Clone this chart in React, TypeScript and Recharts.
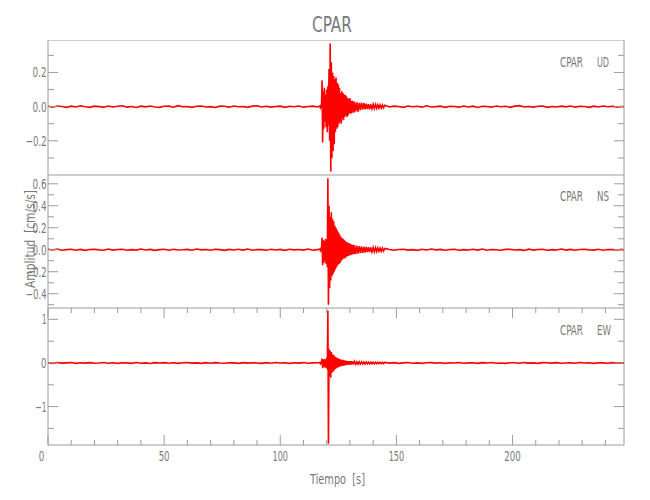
import React from 'react';
import { LineChart, Line, XAxis, YAxis, ReferenceArea } from 'recharts';

// ---- time samples (s) ----
const quietTimesA = [0,2,4,6,8,10,12,14,16,18,20,22,24,26,28,30,32,34,36,38,40,42,44,46,48,50,52,54,56,58,60,62,64,66,68,70,72,74,76,78,80,82,84,86,88,90,92,94,96,98,100,102,104,106,108,110,112,114,116];
const burstTimes = [
  117,117.25,117.5,117.75,118,118.25,118.5,118.75,
  119,119.25,119.5,119.75,120,120.25,120.5,120.75,
  121,121.25,121.5,121.75,122,122.25,122.5,122.75,
  123,123.25,123.5,123.75,124,124.25,124.5,124.75,
  125,125.25,125.5,125.75,126,126.25,126.5,126.75,
  127,127.25,127.5,127.75,128,128.25,128.5,128.75,
  129,129.25,129.5,129.75,130,130.25,130.5,130.75,
  131,131.25,131.5,131.75,132,
  132.5,133,133.5,134,134.5,135,135.5,136,136.5,137,137.5,138,138.5,139,139.5,140,140.5,141,141.5,142,142.5,143,143.5,144,144.5,145];
const quietTimesB = [147,149,151,153,155,157,159,161,163,165,167,169,171,173,175,177,179,181,183,185,187,189,191,193,195,197,199,201,203,205,207,209,211,213,215,217,219,221,223,225,227,229,231,233,235,237,239,241,243,245,247,248];

// ---- UD component (cm/s/s) ----
const udQuietA = [
  0.002,-0.003,0.004,0.001,-0.004,0.003,-0.002,0.005,-0.001,-0.004,
  0.003,0.000,-0.003,0.004,-0.002,0.002,0.005,-0.003,0.001,-0.005,
  0.003,-0.001,0.004,-0.002,-0.004,0.002,0.003,-0.003,0.006,-0.001,
  0.001,-0.004,0.002,0.004,-0.002,0.000,-0.005,0.003,0.002,-0.003,
  0.004,-0.001,0.001,-0.004,0.003,0.005,-0.002,0.002,-0.003,0.001,
  0.003,-0.004,0.002,-0.001,0.004,-0.003,0.001,0.003,-0.002];
const udBurst = [
  0.004,-0.006,0.005,-0.008,0.155,-0.21,0.09,-0.13,
  0.11,-0.09,0.07,-0.12,0.10,-0.15,0.12,-0.11,
  0.22,-0.20,0.37,-0.38,0.26,-0.30,0.20,-0.26,
  0.18,-0.22,0.16,-0.15,0.17,-0.13,0.14,-0.12,
  0.13,-0.10,0.11,-0.09,0.08,-0.10,0.09,-0.07,
  0.08,-0.08,0.07,-0.06,0.07,-0.05,0.06,-0.06,
  0.05,-0.05,0.045,-0.04,0.05,-0.04,0.035,-0.04,
  0.035,-0.03,0.03,-0.035,0.03,
  -0.028,0.025,-0.03,0.022,-0.02,0.024,-0.018,0.02,-0.016,0.018,-0.015,0.014,-0.016,0.013,-0.012,0.014,-0.011,0.012,-0.01,0.011,-0.009,0.01,-0.008,0.009,-0.007,0.008];
const udQuietB = [
  -0.002,0.003,0.001,-0.004,0.004,-0.001,0.002,-0.003,0.005,-0.002,
  0.000,0.003,-0.004,0.002,0.001,-0.003,0.004,-0.002,0.003,-0.005,
  0.002,0.001,-0.003,0.004,-0.001,0.002,-0.004,0.003,0.006,-0.002,
  0.001,-0.003,0.002,0.004,-0.004,0.001,-0.002,0.003,-0.001,0.004,
  -0.003,0.002,0.001,-0.004,0.003,-0.002,0.004,-0.001,0.002,-0.003,
  0.001,0.000];

// ---- NS component ----
const nsQuietA = [
  0.004,-0.002,0.006,-0.005,0.001,0.005,-0.004,0.003,-0.006,0.002,
  0.005,-0.001,-0.004,0.006,-0.003,0.002,0.004,-0.005,0.001,-0.003,
  0.006,-0.002,0.003,-0.006,0.001,0.004,-0.004,0.005,-0.002,0.000,
  0.003,-0.005,0.006,-0.001,0.002,-0.004,0.005,0.001,-0.006,0.003,
  -0.002,0.004,-0.003,0.006,-0.005,0.002,0.001,-0.004,0.005,-0.002,
  0.003,-0.006,0.004,-0.001,0.002,-0.003,0.006,-0.004,0.001];
const nsBurst = [
  0.006,-0.008,0.007,-0.01,0.11,-0.14,0.09,-0.12,
  0.08,-0.10,0.10,-0.13,0.09,-0.16,0.65,-0.50,
  0.40,-0.35,0.30,-0.28,0.34,-0.24,0.28,-0.22,
  0.26,-0.20,0.22,-0.18,0.20,-0.16,0.18,-0.14,
  0.16,-0.13,0.14,-0.12,0.12,-0.10,0.11,-0.09,
  0.10,-0.08,0.09,-0.08,0.08,-0.07,0.07,-0.06,
  0.065,-0.06,0.06,-0.05,0.055,-0.05,0.05,-0.045,
  0.045,-0.04,0.045,-0.04,0.04,
  -0.038,0.035,-0.035,0.032,-0.03,0.03,-0.028,0.027,-0.025,0.026,-0.022,0.024,-0.02,0.022,-0.019,0.02,-0.018,0.018,-0.016,0.017,-0.015,0.015,-0.013,0.014,-0.012,0.012];
const nsQuietB = [
  0.003,-0.005,0.002,0.005,-0.003,0.001,-0.006,0.004,-0.002,0.006,
  -0.001,0.003,-0.004,0.002,0.005,-0.005,0.001,-0.002,0.004,-0.003,
  0.006,-0.004,0.002,0.000,-0.005,0.003,0.004,-0.002,0.001,-0.006,
  0.005,-0.003,0.002,0.004,-0.004,0.001,-0.002,0.006,-0.003,0.003,
  -0.005,0.002,0.004,-0.001,-0.003,0.005,-0.004,0.002,0.001,-0.002,
  0.003,-0.001];

// ---- EW component ----
const ewQuietA = [
  0.006,-0.008,0.010,-0.004,0.002,0.009,-0.010,0.005,-0.003,0.008,
  -0.006,0.001,0.011,-0.007,0.004,-0.009,0.006,0.002,-0.008,0.010,
  -0.005,0.003,-0.011,0.007,0.000,0.008,-0.006,0.004,-0.009,0.005,
  0.010,-0.003,0.002,-0.008,0.007,-0.005,0.009,-0.002,-0.007,0.006,
  0.003,-0.010,0.008,-0.004,0.005,0.001,-0.009,0.007,-0.006,0.011,
  -0.002,0.004,-0.008,0.006,-0.003,0.009,-0.007,0.002,0.005];
const ewBurst = [
  0.01,-0.015,0.012,-0.02,0.10,-0.12,0.08,-0.09,
  0.09,-0.10,0.08,-0.11,0.12,-0.15,1.20,-1.85,
  0.32,-0.30,0.28,-0.34,0.25,-0.22,0.20,-0.20,
  0.18,-0.16,0.15,-0.14,0.13,-0.12,0.12,-0.10,
  0.10,-0.09,0.09,-0.08,0.08,-0.07,0.075,-0.065,
  0.07,-0.06,0.06,-0.055,0.055,-0.05,0.05,-0.045,
  0.045,-0.04,0.045,-0.04,0.04,-0.035,0.04,-0.035,
  0.035,-0.03,0.035,-0.03,0.03,
  -0.03,0.028,-0.027,0.026,-0.025,0.024,-0.023,0.022,-0.022,0.021,-0.02,0.02,-0.019,0.018,-0.018,0.017,-0.017,0.016,-0.016,0.015,-0.015,0.015,-0.014,0.014,-0.014,0.013];
const ewQuietB = [
  -0.004,0.007,-0.009,0.003,0.010,-0.006,0.002,-0.008,0.005,0.008,
  -0.003,0.006,-0.010,0.004,-0.001,0.009,-0.007,0.003,0.005,-0.009,
  0.007,-0.002,0.010,-0.005,0.001,-0.008,0.006,0.004,-0.006,0.009,
  -0.003,0.002,-0.010,0.007,0.005,-0.004,0.008,-0.006,0.001,0.003,
  -0.007,0.010,-0.002,0.006,-0.009,0.004,0.002,-0.005,0.008,-0.003,
  0.006,-0.004];

// ---- axes ----
const xDomain = [0, 248];
const xTicks = [0,10,20,30,40,50,60,70,80,90,100,110,120,130,140,150,160,170,180,190,200,210,220,230,240];
const xMajorTicks = [0,50,100,150,200];

const udDomain = [-0.4, 0.39];
const udTicks = [-0.3,-0.2,-0.1,0,0.1,0.2,0.3];
const udMajor = [-0.2,0,0.2];
const nsDomain = [-0.53, 0.68];
const nsTicks = [-0.5,-0.4,-0.3,-0.2,-0.1,0,0.1,0.2,0.3,0.4,0.5,0.6];
const nsMajor = [-0.4,-0.2,0,0.2,0.4,0.6];
const ewDomain = [-1.88, 1.26];
const ewTicks = [-1.5,-1,-0.5,0,0.5,1];
const ewMajor = [-1,0,1];

const times = [...quietTimesA, ...burstTimes, ...quietTimesB];
const udValues = [...udQuietA, ...udBurst, ...udQuietB];
const nsValues = [...nsQuietA, ...nsBurst, ...nsQuietB];
const ewValues = [...ewQuietA, ...ewBurst, ...ewQuietB];
const data = times.map((t, i) => ({ t, ud: udValues[i] ?? 0, ns: nsValues[i] ?? 0, ew: ewValues[i] ?? 0 }));

const AXIS = '#9c9c9c';
const TEXT = '#7a7a7a';
const FONT = "'Liberation Sans Narrow','DejaVu Sans Condensed','Liberation Sans',sans-serif";
const PLOT_W = 576;

const charW = (c: string) => (c === '.' ? 3 : c === '\u2212' ? 6.5 : c === '1' ? 4.5 : 5.5);
const labelLen = (s: string) => s.split('').reduce((a, c) => a + charW(c), 0);
const fmt1 = (v: number) => (v < 0 ? '\u2212' : '') + Math.abs(v).toFixed(1);
const fmt0 = (v: number) => (v < 0 ? '\u2212' : '') + Math.abs(v).toFixed(0);

function YTick(props: any) {
  const { x, y, payload, majors, fmt } = props;
  const v = payload.value;
  const major = majors.some((m: number) => Math.abs(m - v) < 1e-9);
  const len = major ? 10 : 6;
  const label = major ? fmt(v) : null;
  return (
    <g>
      <line x1={x} y1={y} x2={x + len} y2={y} stroke={AXIS} strokeWidth={1} />
      <line x1={x + PLOT_W} y1={y} x2={x + PLOT_W - len} y2={y} stroke={AXIS} strokeWidth={1} />
      {label !== null && (
        <text x={x - 1.5} y={y + 5} textAnchor="end" fontFamily={FONT} fontSize={14} fill={TEXT}
          textLength={labelLen(label)} lengthAdjust="spacingAndGlyphs">{label}</text>
      )}
    </g>
  );
}

function XTick(props: any) {
  const { x, y, payload, plotH, showLabels } = props;
  const v = payload.value;
  const major = xMajorTicks.includes(v);
  const len = major ? 10 : 5;
  const label = String(v);
  return (
    <g>
      <line x1={x} y1={y} x2={x} y2={y - len} stroke={AXIS} strokeWidth={1} />
      <line x1={x} y1={y - plotH} x2={x} y2={y - plotH + len} stroke={AXIS} strokeWidth={1} />
      {showLabels && major && (
        <text x={v === 0 ? x - 6.5 : x} y={y + 16} textAnchor="middle" fontFamily={FONT} fontSize={14} fill={TEXT}
          textLength={labelLen(label)} lengthAdjust="spacingAndGlyphs">{label}</text>
      )}
    </g>
  );
}

function Panel(p: { top: number; plotH: number; dataKey: string; domain: number[]; ticks: number[]; majors: number[]; fmt: (v: number) => string; showXLabels: boolean }) {
  const extra = p.showXLabels ? 30 : 0;
  const h = p.plotH + extra;
  return (
    <div style={{ position: 'absolute', left: 0, top: p.top, width: 650, height: h }}>
      <LineChart width={650} height={h} data={data} margin={{ top: 0, right: 26, bottom: 0, left: 0 }}>
        <XAxis dataKey="t" type="number" domain={xDomain} ticks={xTicks} interval={0} height={extra}
          tickSize={0} tickMargin={0} axisLine={false} tickLine={false} allowDataOverflow
          tick={(tp: any) => <XTick {...tp} plotH={p.plotH} showLabels={p.showXLabels} />} />
        <YAxis type="number" domain={p.domain} ticks={p.ticks} interval={0} width={48}
          tickSize={0} tickMargin={0} axisLine={false} tickLine={false} allowDataOverflow
          tick={(tp: any) => <YTick {...tp} majors={p.majors} fmt={p.fmt} />} />
        <ReferenceArea x1={xDomain[0]} x2={xDomain[1]} y1={p.domain[0]} y2={p.domain[1]}
          fill="none" fillOpacity={0} stroke={AXIS} strokeWidth={1} ifOverflow="visible" />
        <Line dataKey={p.dataKey} type="linear" stroke="#ff0000" strokeWidth={1.6} dot={false} isAnimationActive={false} />
      </LineChart>
    </div>
  );
}

export default function App() {
  return (
    <div style={{ position: 'absolute', left: 0, top: 0, width: 650, height: 500, background: '#ffffff' }}>
      <Panel top={40} plotH={135} dataKey="ud" domain={udDomain} ticks={udTicks} majors={udMajor} fmt={fmt1} showXLabels={false} />
      <Panel top={175} plotH={133} dataKey="ns" domain={nsDomain} ticks={nsTicks} majors={nsMajor} fmt={fmt1} showXLabels={false} />
      <Panel top={308} plotH={137} dataKey="ew" domain={ewDomain} ticks={ewTicks} majors={ewMajor} fmt={fmt0} showXLabels={true} />
      <svg width={650} height={500} style={{ position: 'absolute', left: 0, top: 0, pointerEvents: 'none' }}>
        <g fontFamily={FONT} fill={TEXT}>
          <text x={332} y={32} textAnchor="middle" fontSize={22} textLength={40} lengthAdjust="spacingAndGlyphs">CPAR</text>
          <text x={560} y={67} fontSize={14.5} textLength={23} lengthAdjust="spacingAndGlyphs">CPAR</text>
          <text x={597} y={67} fontSize={14.5} textLength={12} lengthAdjust="spacingAndGlyphs">UD</text>
          <text x={560} y={201} fontSize={14.5} textLength={23} lengthAdjust="spacingAndGlyphs">CPAR</text>
          <text x={597} y={201} fontSize={14.5} textLength={12} lengthAdjust="spacingAndGlyphs">NS</text>
          <text x={560} y={335} fontSize={14.5} textLength={23} lengthAdjust="spacingAndGlyphs">CPAR</text>
          <text x={597} y={335} fontSize={14.5} textLength={14} lengthAdjust="spacingAndGlyphs">EW</text>
          <text x={337.5} y={484} textAnchor="middle" fontSize={14} textLength={55} lengthAdjust="spacingAndGlyphs">{'Tiempo\u00a0\u00a0[s]'}</text>
          <text transform="translate(35,239) rotate(-90)" textAnchor="middle" fontSize={14} textLength={98} lengthAdjust="spacingAndGlyphs">{'Amplitud\u00a0\u00a0[cm/s/s]'}</text>
        </g>
      </svg>
    </div>
  );
}
